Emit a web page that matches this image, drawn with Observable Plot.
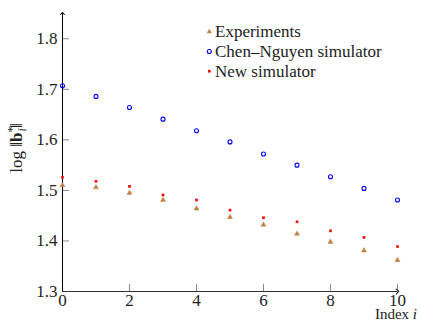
<!DOCTYPE html>
<html>
<head>
<meta charset="utf-8">
<script src="https://cdn.jsdelivr.net/npm/d3@7"></script>
<script src="https://cdn.jsdelivr.net/npm/@observablehq/plot@0.6"></script>
<style>
  html, body { margin: 0; padding: 0; background: #fff; }
  #chart { width: 422px; height: 322px; overflow: hidden; }
  #chart svg, #chart svg text { font-family: 'Liberation Serif', 'DejaVu Serif', serif !important; }
</style>
</head>
<body>
<div id="chart"></div>
<script>
// ---- data ----
const index = [0, 1, 2, 3, 4, 5, 6, 7, 8, 9, 10];
const experiments = [1.510, 1.506, 1.495, 1.481, 1.464, 1.447, 1.432, 1.414, 1.398, 1.381, 1.362];
const chenNguyen = [1.707, 1.686, 1.664, 1.641, 1.618, 1.596, 1.572, 1.550, 1.527, 1.504, 1.481];
const newSimulator = [1.526, 1.518, 1.508, 1.491, 1.481, 1.461, 1.446, 1.438, 1.420, 1.407, 1.389];
const seriesNames = ["Experiments", "Chen–Nguyen simulator", "New simulator"];
const xTicks = [0, 2, 4, 6, 8, 10];
const yTicks = [1.3, 1.4, 1.5, 1.6, 1.7, 1.8];
const xDomain = [0, 10];
const yDomain = [1.3, 1.85];

const seriesValues = [experiments, chenNguyen, newSimulator];
const rows = [];
seriesNames.forEach((name, s) => index.forEach((i, k) => rows.push({series: name, i, v: seriesValues[s][k]})));
const bySeries = name => rows.filter(d => d.series === name);

const FONT = "'Liberation Serif', 'DejaVu Serif', serif";
const brown = "#bf8040", blue = "#0000ff", red = "#ff0000";

const plot = Plot.plot({
  width: 422,
  height: 322,
  marginLeft: 62,
  marginRight: 25,
  marginTop: 13,
  marginBottom: 31,
  style: {fontFamily: FONT, fontSize: "17px", background: "white", overflow: "hidden"},
  x: {domain: xDomain},
  y: {domain: yDomain},
  marks: [
    // inside tick marks
    Plot.axisY({ticks: yTicks, tickSize: 7, dx: 7, text: null, stroke: "#8a8a8a", label: null}),
    Plot.axisX({ticks: xTicks, tickSize: 7, dy: -7, text: null, stroke: "#8a8a8a", label: null}),
    // tick labels
    Plot.axisY({ticks: yTicks, tickSize: 0, tickPadding: 5, tickFormat: d => d.toFixed(1), fontSize: 17, fontFamily: FONT, fill: "#222", label: null}),
    Plot.axisX({ticks: xTicks, tickSize: 0, tickPadding: 2, tickFormat: d => String(d), fontSize: 17, fontFamily: FONT, fill: "#222", label: null}),
    // axis lines with arrows
    Plot.link([0], {x1: () => xDomain[0], x2: () => xDomain[1], y1: () => yDomain[0], y2: () => yDomain[0], stroke: "#333", strokeWidth: 1.2, markerEnd: "arrow"}),
    Plot.link([0], {x1: () => xDomain[0], x2: () => xDomain[0], y1: () => yDomain[0], y2: () => yDomain[1], stroke: "black", strokeWidth: 1, markerEnd: "arrow"}),
    // series
    Plot.dot(bySeries(seriesNames[0]), {x: "i", y: "v", symbol: "triangle", r: 1.9, fill: brown, stroke: brown, strokeWidth: 0.4}),
    Plot.dot(bySeries(seriesNames[1]), {x: "i", y: "v", symbol: "circle", r: 2, fill: "none", stroke: blue, strokeWidth: 1.1}),
    Plot.dot(bySeries(seriesNames[2]), {x: "i", y: "v", symbol: "square", r: 1.5, fill: red})
  ]
});
document.getElementById("chart").appendChild(plot);

// ---- legend and axis titles (text) ----
const svg = d3.select(plot);
const legend = svg.append("g").attr("font-family", FONT).attr("font-size", 17).attr("fill", "#222").attr("text-anchor", "start");
const legendColors = [brown, blue, red];
const legendSymbols = [d3.symbolTriangle, d3.symbolCircle, d3.symbolSquare];
const legendSizes = [Math.PI * 1.9 * 1.9, Math.PI * 4, Math.PI * 1.5 * 1.5];
seriesNames.forEach((name, k) => {
  const y = 37.3 + k * 19.7;
  const g = legend.append("g");
  const sym = g.append("path")
    .attr("transform", `translate(209.3,${y - 5.5})`)
    .attr("d", d3.symbol(legendSymbols[k], legendSizes[k])());
  if (k === 1) sym.attr("fill", "none").attr("stroke", blue).attr("stroke-width", 1.1);
  else sym.attr("fill", legendColors[k]);
  g.append("text").attr("x", 215).attr("y", y).attr("text-anchor", "start").text(name);
});

// y-axis title: log ‖b*_i‖
const yt = svg.append("text")
  .attr("font-family", FONT).attr("font-size", 17).attr("fill", "#222")
  .attr("text-anchor", "middle")
  .attr("transform", "translate(22,148) rotate(-90)");
yt.append("tspan").text("log ‖");
yt.append("tspan").attr("font-weight", "bold").text("b");
yt.append("tspan").attr("font-size", 12).attr("dy", -6).text("*");
yt.append("tspan").attr("font-size", 12).attr("font-style", "italic").attr("dx", -5).attr("dy", 10).text("i");
yt.append("tspan").attr("dy", -4).text("‖");

// x-axis title: Index i
const xt = svg.append("text")
  .attr("font-family", FONT).attr("font-size", 15).attr("fill", "#222")
  .attr("text-anchor", "end")
  .attr("x", 417).attr("y", 319);
xt.append("tspan").text("Index ");
xt.append("tspan").attr("font-style", "italic").text("i");
</script>
</body>
</html>
